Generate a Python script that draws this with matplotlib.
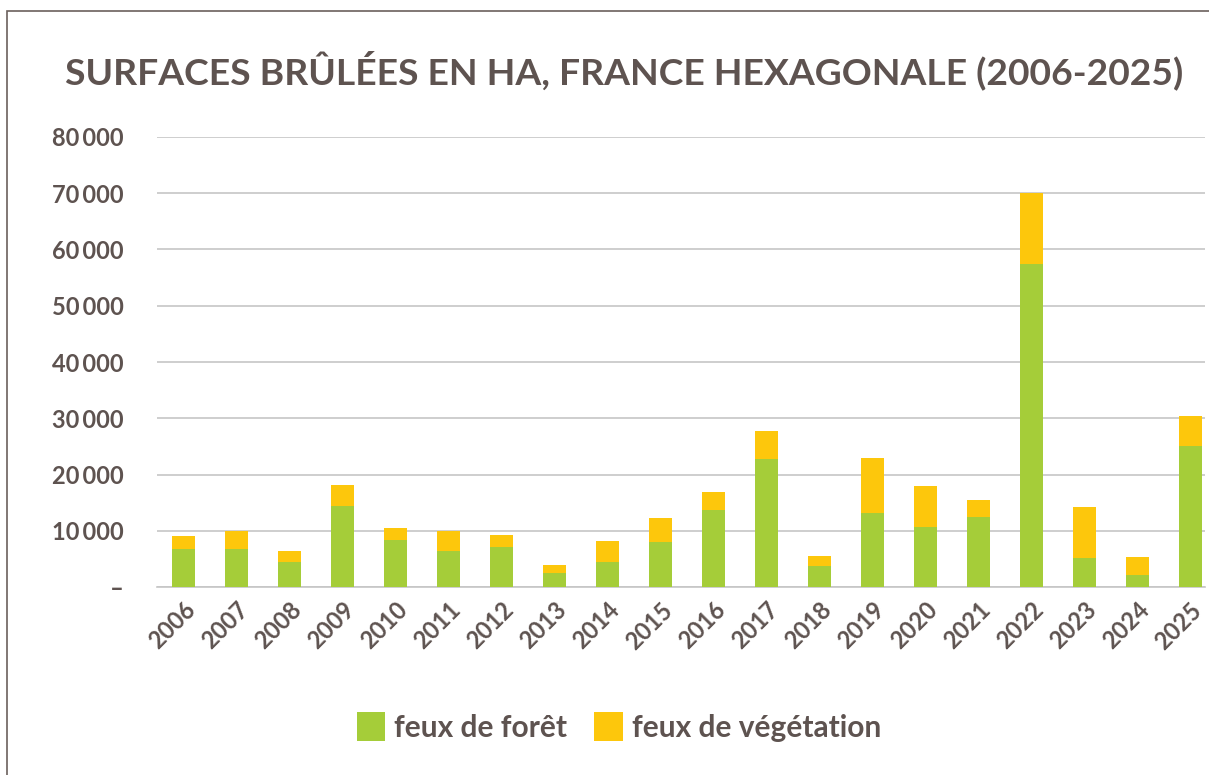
import matplotlib.pyplot as plt
from matplotlib.patches import Rectangle
from matplotlib.ticker import FuncFormatter

years = [str(y) for y in range(2006, 2026)]
# surfaces brûlées (ha)
foret = [6800, 6800, 4500, 14400, 8400, 6450, 7150, 2500, 4500, 8050,
         13700, 22800, 3800, 13200, 10700, 12500, 57400, 5200, 2200, 25100]
total = [9100, 10000, 6450, 18200, 10500, 10000, 9300, 3950, 8200, 12300,
         16900, 27750, 5550, 22950, 18000, 15500, 70000, 14250, 5400, 30400]
vegetation = [t - f for t, f in zip(total, foret)]

TEXT = '#5e5350'
GREEN = '#A5CD39'
YELLOW = '#FDC70C'

plt.rcParams['font.family'] = ['Lato', 'DejaVu Sans']
plt.rcParams['font.weight'] = 'bold'

fig = plt.figure(figsize=(12.09, 7.75), dpi=100)
ax = fig.add_axes([157 / 1209, 1 - 587 / 775, (1205 - 157) / 1209, 450 / 775])

x = range(len(years))
ax.bar(x, foret, width=0.434, color=GREEN, label='feux de forêt', zorder=3)
ax.bar(x, vegetation, bottom=foret, width=0.434, color=YELLOW,
       label='feux de végétation', zorder=3)

ax.set_xlim(-0.5, 19.28)
ax.set_ylim(0, 80000)
ax.set_yticks(range(0, 80001, 10000))
ax.yaxis.set_major_formatter(FuncFormatter(
    lambda v, p: '–' if v == 0 else f'{int(v):,}'.replace(',', '\u2009')))
ax.grid(axis='y', color='#c6c6c6', linewidth=1.2, zorder=0)
for s in ['top', 'right', 'left']:
    ax.spines[s].set_visible(False)
ax.spines['bottom'].set_color('#c6c6c6')
ax.spines['bottom'].set_linewidth(1.2)
ax.tick_params(axis='y', length=0, pad=24, labelsize=17, labelcolor=TEXT)
ax.tick_params(axis='x', length=0, pad=8, labelsize=17, labelcolor=TEXT)
ax.set_xticks(list(x))
ax.set_xticklabels(years, rotation=45, ha='right', rotation_mode='anchor')

fig.text(624 / 1209, 1 - 70 / 775, 'SURFACES BRÛLÉES EN HA, FRANCE HEXAGONALE (2006-2025)',
         ha='center', va='center', fontsize=26.8, color=TEXT, fontweight='bold')

leg = fig.legend(loc='center', bbox_to_anchor=(619 / 1209, 1 - 727 / 775), ncol=2,
                 frameon=False, fontsize=21.5, handlelength=0.95, handleheight=1.1,
                 handletextpad=0.3, columnspacing=0.9)
for t in leg.get_texts():
    t.set_color(TEXT)

# outer frame (left and top visible)
fig.patches.append(Rectangle((7 / 1209, -0.05), 1.2, 1 - 11 / 775 + 0.05,
                             transform=fig.transFigure, fill=False,
                             edgecolor='#6b605c', linewidth=1.2))

fig.savefig('out.png', dpi=100, facecolor='white')
